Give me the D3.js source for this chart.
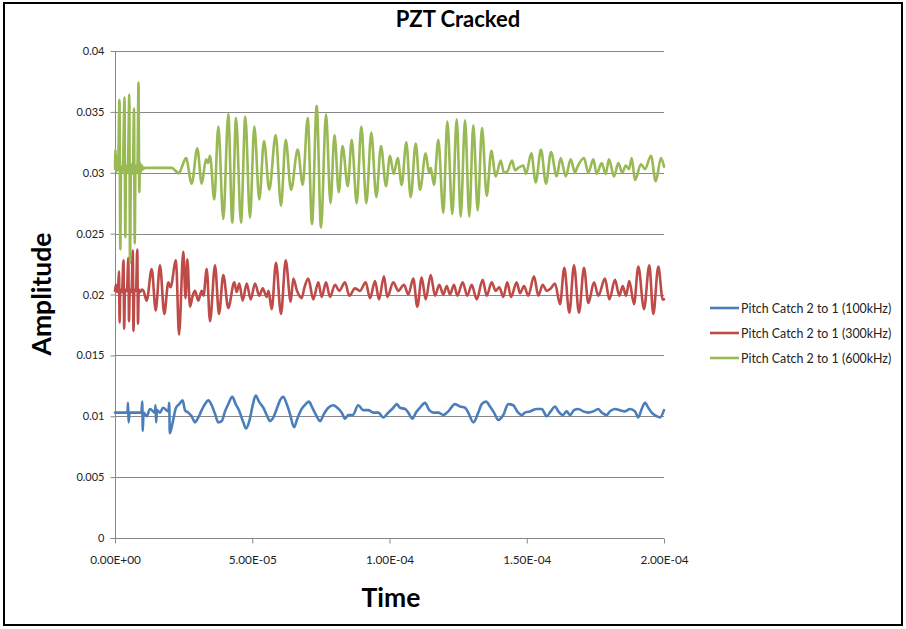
<!DOCTYPE html>
<html><head><meta charset="utf-8">
<script src="https://cdn.jsdelivr.net/npm/d3@7"></script>
<style>html,body{margin:0;padding:0;background:#fff;}svg{display:block;}</style>
</head><body>
<svg id="chart" width="906" height="629"></svg>
<script>
// ---- data (time in microseconds, amplitude) ----
const chartTitle = "PZT Cracked";
const xTitle = "Time";
const yTitle = "Amplitude";
const seriesNames = ["Pitch Catch 2 to 1 (100kHz)", "Pitch Catch 2 to 1 (300kHz)", "Pitch Catch 2 to 1 (600kHz)"];
const seriesColors = ["#4a7ebb", "#be4b48", "#98b954"];
const xTicks = [0, 5e-5, 1e-4, 1.5e-4, 2e-4];
const yTicks = [0, 0.005, 0.01, 0.015, 0.02, 0.025, 0.03, 0.035, 0.04];

const pc100kHz = [
[0,0.0103],[4.55,0.0103],[4.74,0.0111],[4.96,0.0095],[5.28,0.0103],[9.65,0.0103],[9.91,0.0112],[10.13,0.0088],
[10.38,0.0103],[11.55,0.0100],[12.75,0.0106],[14.57,0.0103],[14.75,0.0109],[14.97,0.0095],[15.30,0.0105],[16.39,0.0103],
[17.49,0.0107],[19.49,0.0104],[19.74,0.0111],[19.96,0.0086],[21.02,0.0095],[22.22,0.0107],[23.42,0.0110],[24.66,0.0113],
[25.50,0.0105],[26.70,0.0103],[27.94,0.0100],[29.14,0.0095],[30.35,0.0099],[31.58,0.0105],[32.79,0.0110],[33.99,0.0113],
[35.23,0.0109],[36.43,0.0102],[37.63,0.0095],[38.87,0.0096],[40.07,0.0104],[41.27,0.0110],[42.73,0.0116],[43.97,0.0110],
[45.17,0.0105],[46.74,0.0095],[47.72,0.0090],[48.93,0.0096],[50.16,0.0109],[51.26,0.0117],[52.46,0.0112],[54.03,0.0107],
[55.26,0.0101],[56.47,0.0096],[57.67,0.0099],[58.91,0.0106],[60.11,0.0113],[61.31,0.0116],[62.55,0.0110],[63.75,0.0102],
[65.21,0.0091],[66.41,0.0098],[68.01,0.0106],[69.47,0.0110],[70.67,0.0112],[71.88,0.0107],[73.48,0.0100],[74.68,0.0096],
[76.14,0.0102],[77.71,0.0107],[79.53,0.0109],[80.98,0.0107],[82.59,0.0103],[83.79,0.0098],[84.99,0.0101],[86.59,0.0101],
[88.63,0.0109],[90.45,0.0105],[92.28,0.0105],[94.10,0.0103],[95.92,0.0103],[97.74,0.0099],[99.56,0.0103],[101.38,0.0107],
[102.62,0.0110],[103.83,0.0107],[105.65,0.0106],[106.85,0.0103],[108.31,0.0098],[109.65,0.0103],[111.11,0.0107],[112.93,0.0111],
[114.50,0.0105],[115.96,0.0103],[117.78,0.0103],[119.60,0.0101],[121.42,0.0104],[123.86,0.0110],[125.68,0.0108],[127.51,0.0107],
[128.71,0.0103],[130.53,0.0095],[132.35,0.0103],[133.59,0.0110],[135.15,0.0112],[136.61,0.0108],[138.07,0.0103],[139.64,0.0097],
[141.46,0.0101],[143.28,0.0110],[145.10,0.0109],[146.52,0.0104],[148.16,0.0101],[149.36,0.0103],[151.19,0.0104],[153.62,0.0106],
[155.45,0.0106],[157.27,0.0100],[158.73,0.0104],[160.29,0.0108],[161.49,0.0104],[163.10,0.0101],[164.55,0.0104],[165.76,0.0101],
[167.21,0.0105],[168.78,0.0106],[170.60,0.0104],[172.43,0.0103],[174.25,0.0104],[176.07,0.0106],[177.30,0.0103],[179.13,0.0101],
[180.29,0.0104],[182.15,0.0106],[183.98,0.0105],[185.79,0.0104],[187.61,0.0106],[189.44,0.0104],[190.64,0.0099],[191.88,0.0106],
[193.08,0.0111],[194.29,0.0107],[195.52,0.0103],[197.34,0.0100],[198.54,0.0099],[200.00,0.0105]
];

const pc300kHz = [
[0,0.0203],[0.36,0.0208],[0.73,0.0202],[1.09,0.0204],[1.46,0.0219],[1.68,0.0177],[1.93,0.0204],[2.55,0.0202],
[3.10,0.0228],[3.35,0.0172],[3.64,0.0204],[4.37,0.0203],[4.85,0.0230],[5.10,0.0178],[5.39,0.0204],[6.01,0.0202],
[6.48,0.0236],[6.74,0.0170],[7.03,0.0204],[7.65,0.0203],[8.12,0.0237],[8.38,0.0176],[8.67,0.0204],[9.11,0.0202],
[9.84,0.0204],[10.38,0.0203],[11.55,0.0195],[13.37,0.0221],[14.83,0.0187],[16.39,0.0224],[17.96,0.0184],[19.42,0.0210],
[20.22,0.0206],[22.22,0.0228],[23.32,0.0167],[24.88,0.0235],[25.69,0.0197],[26.34,0.0229],[27.32,0.0190],[28.31,0.0199],
[29.14,0.0203],[30.35,0.0195],[31.58,0.0203],[32.24,0.0199],[33.41,0.0221],[34.61,0.0178],[36.43,0.0224],[37.89,0.0184],
[39.45,0.0216],[41.27,0.0189],[43.46,0.0210],[44.33,0.0202],[45.28,0.0209],[46.52,0.0195],[47.98,0.0209],[49.44,0.0196],
[51.00,0.0209],[52.57,0.0199],[53.81,0.0205],[55.26,0.0198],[55.92,0.0203],[57.09,0.0188],[58.65,0.0226],[60.47,0.0184],
[62.19,0.0228],[64.01,0.0194],[64.95,0.0213],[66.30,0.0203],[68.01,0.0197],[69.04,0.0206],[70.42,0.0213],[72.24,0.0196],
[74.06,0.0210],[75.30,0.0198],[76.87,0.0210],[78.32,0.0198],[80.15,0.0208],[81.71,0.0203],[83.79,0.0210],[85.36,0.0199],
[87.43,0.0205],[89.25,0.0203],[91.33,0.0210],[92.90,0.0197],[94.72,0.0211],[96.18,0.0196],[97.99,0.0215],[99.20,0.0198],
[101.38,0.0210],[103.21,0.0203],[105.28,0.0208],[106.85,0.0200],[108.67,0.0213],[110.13,0.0190],[111.73,0.0214],[113.19,0.0196],
[115.01,0.0216],[116.58,0.0199],[118.14,0.0208],[119.60,0.0200],[120.84,0.0207],[122.04,0.0200],[123.50,0.0208],[124.70,0.0199],
[126.67,0.0210],[128.34,0.0199],[129.95,0.0208],[131.77,0.0196],[133.95,0.0212],[135.41,0.0199],[137.23,0.0210],[138.69,0.0203],
[140.00,0.0206],[141.46,0.0198],[142.91,0.0210],[144.26,0.0198],[146.34,0.0210],[147.54,0.0201],[149.00,0.0207],[150.56,0.0199],
[152.64,0.0215],[154.21,0.0199],[155.81,0.0208],[157.27,0.0203],[158.73,0.0205],[160.29,0.0209],[162.11,0.0192],[163.68,0.0222],
[165.50,0.0185],[167.21,0.0224],[169.03,0.0185],[170.86,0.0222],[172.43,0.0193],[174.50,0.0210],[176.07,0.0199],[178.51,0.0213],
[180.08,0.0196],[182.15,0.0212],[183.72,0.0199],[184.95,0.0207],[186.16,0.0199],[187.36,0.0211],[189.08,0.0192],[190.64,0.0223],
[192.71,0.0188],[194.65,0.0224],[196.10,0.0184],[197.93,0.0223],[199.53,0.0196],[200.00,0.0196]
];

const pc600kHz = [
[0,0.0303],[0.18,0.0319],[0.47,0.0301],[0.73,0.0305],[1.09,0.0302],[1.64,0.0360],[1.93,0.0237],[2.19,0.0305],
[2.55,0.0300],[2.91,0.0306],[3.46,0.0362],[3.75,0.0247],[4.01,0.0306],[4.37,0.0300],[4.74,0.0307],[5.21,0.0364],
[5.46,0.0226],[5.83,0.0307],[6.19,0.0299],[6.56,0.0305],[6.92,0.0353],[7.18,0.0242],[7.47,0.0306],[7.83,0.0300],
[8.20,0.0305],[8.56,0.0374],[8.85,0.0284],[9.11,0.0308],[9.47,0.0301],[9.84,0.0306],[10.20,0.0303],[10.93,0.0304],
[16.39,0.0304],[20.77,0.0304],[21.86,0.0302],[23.32,0.02995],[24.41,0.0305],[25.87,0.0312],[27.94,0.0291],[29.98,0.0320],
[31.58,0.0291],[33.15,0.0311],[33.88,0.0308],[34.61,0.0314],[36.17,0.0278],[37.63,0.0338],[39.45,0.0262],[41.27,0.0348],
[42.73,0.0259],[44.08,0.0345],[45.90,0.0259],[47.47,0.0346],[49.18,0.0263],[50.75,0.0338],[52.57,0.0278],[54.28,0.0326],
[56.21,0.0286],[58.54,0.0331],[60.47,0.0273],[62.19,0.0327],[64.12,0.0286],[66.56,0.0319],[68.38,0.0290],[70.20,0.0345],
[71.77,0.0258],[73.48,0.0355],[75.05,0.0255],[76.87,0.0348],[78.51,0.0275],[79.96,0.0331],[81.53,0.0284],[82.88,0.0322],
[84.81,0.0289],[86.23,0.0327],[88.05,0.0275],[89.73,0.0338],[91.55,0.0275],[93.37,0.0333],[95.19,0.0280],[96.90,0.0322],
[98.72,0.0289],[100.18,0.0314],[101.53,0.0299],[102.99,0.0312],[104.44,0.0290],[106.12,0.0325],[107.72,0.0280],[109.55,0.0324],
[111.11,0.0286],[113.19,0.0316],[114.39,0.0300],[115.01,0.0304],[116.21,0.0290],[117.78,0.0327],[119.60,0.0267],[121.06,0.0342],
[122.88,0.0266],[124.48,0.0344],[125.94,0.0264],[127.51,0.0343],[129.07,0.0264],[130.53,0.0339],[132.13,0.0269],[133.70,0.0337],
[135.41,0.0281],[137.09,0.0318],[138.69,0.0297],[140.51,0.0310],[141.71,0.0300],[142.91,0.0301],[144.63,0.0310],[145.72,0.0302],
[146.92,0.0304],[148.74,0.0306],[149.73,0.0299],[151.66,0.0316],[153.26,0.0292],[155.19,0.0319],[157.01,0.0291],[158.83,0.0317],
[160.91,0.0297],[162.37,0.0312],[164.19,0.0297],[166.01,0.0311],[167.58,0.0300],[168.31,0.0304],[170.86,0.0312],[172.43,0.0300],
[174.25,0.0311],[175.48,0.0299],[177.30,0.0308],[178.76,0.0299],[179.96,0.0311],[181.79,0.0297],[183.35,0.0308],[184.81,0.0300],
[186.05,0.0306],[187.25,0.0303],[188.23,0.0312],[189.44,0.0294],[191.62,0.0307],[193.08,0.0303],[195.26,0.0314],[196.98,0.0293],
[198.91,0.0312],[200.00,0.0305]
];
const allSeries = [pc100kHz, pc300kHz, pc600kHz];

// ---- drawing ----
const svg = d3.select("#chart");
const fontFamily = "Lato, 'Open Sans', 'DejaVu Sans', sans-serif";
const margin = {left: 115, right: 906 - 664, top: 51, bottom: 629 - 538};
const W = 906, H = 629;

svg.append("rect").attr("x", 4).attr("y", 3).attr("width", 898).attr("height", 622)
  .attr("fill", "#fff").attr("stroke", "#000").attr("stroke-width", 2);

const x = d3.scaleLinear().domain([0, 2e-4]).range([margin.left, W - margin.right]);
const y = d3.scaleLinear().domain([0, 0.04]).range([H - margin.bottom, margin.top]);

// gridlines
svg.append("g").selectAll("line").data(yTicks.filter(d => d > 0)).join("line")
  .attr("x1", x(0)).attr("x2", x(2e-4))
  .attr("y1", d => Math.round(y(d)) + 0.5).attr("y2", d => Math.round(y(d)) + 0.5)
  .attr("stroke", "#888").attr("stroke-width", 1);

const fmtX = d => d.toExponential(2).toUpperCase().replace(/E([+-])(\d)$/, "E$10$2");
const fmtY = d => String(+d.toFixed(3));

const yAxis = svg.append("g").attr("transform", `translate(${Math.round(x(0)) + 0.5},0)`)
  .call(d3.axisLeft(y).tickValues(yTicks).tickFormat(fmtY).tickSize(5).tickPadding(6));
const xAxis = svg.append("g").attr("transform", `translate(0,${Math.round(y(0)) + 0.5})`)
  .call(d3.axisBottom(x).tickValues(xTicks).tickFormat(fmtX).tickSize(5).tickPadding(12));
[xAxis, yAxis].forEach(a => {
  a.select(".domain").attr("stroke", "#888").attr("d", null);
  a.selectAll(".tick line").attr("stroke", "#888");
  a.selectAll("text").attr("font-family", fontFamily).attr("fill", "#222");
});
yAxis.selectAll("text").attr("font-size", 11);
xAxis.selectAll("text").attr("font-size", 11.8);
yAxis.select(".domain").attr("d", `M0,${y(0.04)}V${y(0)}`);
xAxis.select(".domain").attr("d", `M${x(0)},0H${x(2e-4)}`);

// series
const line = d3.line().x(d => x(d[0] * 1e-6)).y(d => y(d[1])).curve(d3.curveMonotoneX);
svg.append("g").selectAll("path").data(allSeries).join("path")
  .attr("d", line).attr("fill", "none")
  .attr("stroke", (d, i) => seriesColors[i]).attr("stroke-width", 2.6)
  .attr("stroke-linejoin", "round").attr("stroke-linecap", "round");

// titles
svg.append("text").attr("x", 458).attr("y", 27).attr("text-anchor", "middle")
  .attr("font-family", fontFamily).attr("font-weight", "bold").attr("font-size", 22).text(chartTitle);
svg.append("text").attr("x", 391).attr("y", 607).attr("text-anchor", "middle")
  .attr("font-family", fontFamily).attr("font-weight", "bold").attr("font-size", 26.5).text(xTitle);
svg.append("text").attr("transform", "translate(51,294) rotate(-90)").attr("text-anchor", "middle")
  .attr("font-family", fontFamily).attr("font-weight", "bold").attr("font-size", 26.5).text(yTitle);

// legend
const legendY = [308, 333, 358];
const lg = svg.append("g").selectAll("g").data(seriesNames).join("g")
  .attr("transform", (d, i) => `translate(710,${legendY[i]})`);
lg.append("line").attr("x1", 0).attr("x2", 29).attr("y1", 0).attr("y2", 0)
  .attr("stroke", (d, i) => seriesColors[i]).attr("stroke-width", 2.6);
lg.append("text").attr("x", 31).attr("y", 4.5).attr("font-family", fontFamily).attr("font-size", 12.4)
  .attr("fill", "#222").text(d => d);
</script>
</body></html>
